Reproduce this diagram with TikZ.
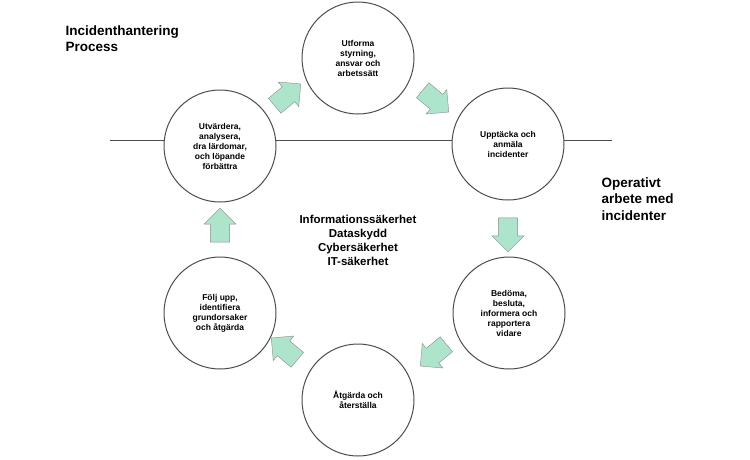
\documentclass[tikz,border=0pt]{standalone}
\usepackage{fontspec}
\setmainfont{Liberation Sans}
\usetikzlibrary{shapes.arrows}
\definecolor{mint}{RGB}{172,228,204}
\begin{document}
\begin{tikzpicture}[x=1pt,y=-1pt,
 circ/.style={circle,draw=black!70,line width=1pt,fill=white,minimum size=112pt,inner sep=0pt,align=center,font=\bfseries\fontsize{8.5}{10}\selectfont},
 barr/.style={single arrow,draw=black!45,fill=mint,minimum height=34pt,minimum width=32pt,single arrow head extend=6pt,inner sep=0pt,text height=18pt,text width=0pt,text depth=0pt},
 head/.style={font=\bfseries\fontsize{13.5}{16.5}\selectfont,align=left}]
\useasboundingbox (0,0) rectangle (750,459);
\coordinate (l1) at (110,140);
\coordinate (l2) at (612,140);
\draw[black!70,line width=0.8pt] (l1) -- (l2);
\node[circ] (c1) at (358,58) {Utforma\\styrning,\\ansvar och\\arbetssätt};
\node[circ] (c2) at (508,144) {Upptäcka och\\anmäla\\incidenter};
\node[circ] (c3) at (509,313) {Bedöma,\\besluta,\\informera och\\rapportera\\vidare};
\node[circ] (c4) at (358,400) {Åtgärda och\\återställa};
\node[circ] (c5) at (220,313) {Följ upp,\\identifiera\\grundorsaker\\och åtgärda};
\node[circ] (c6) at (220,146) {Utvärdera,\\analysera,\\dra lärdomar,\\och löpande\\förbättra};
\node[barr,rotate=40] (a1) at (284,98) {};
\node[barr,rotate=-40] (a2) at (432,98) {};
\node[barr,rotate=-90] (a3) at (508,230) {};
\node[barr,rotate=-140] (a4) at (437,352) {};
\node[barr,rotate=140] (a5) at (288,352) {};
\node[barr,rotate=90] (a6) at (220,230) {};
\node[head,anchor=north west] (t1) at (62,22) {Incidenthantering\\Process};
\node[head,anchor=north west] (t2) at (598,174) {Operativt\\arbete med\\incidenter};
\node[font=\bfseries\fontsize{11.5}{14}\selectfont,align=center] (mid) at (358,240) {Informationssäkerhet\\Dataskydd\\Cybersäkerhet\\IT-säkerhet};
\end{tikzpicture}
\end{document}
